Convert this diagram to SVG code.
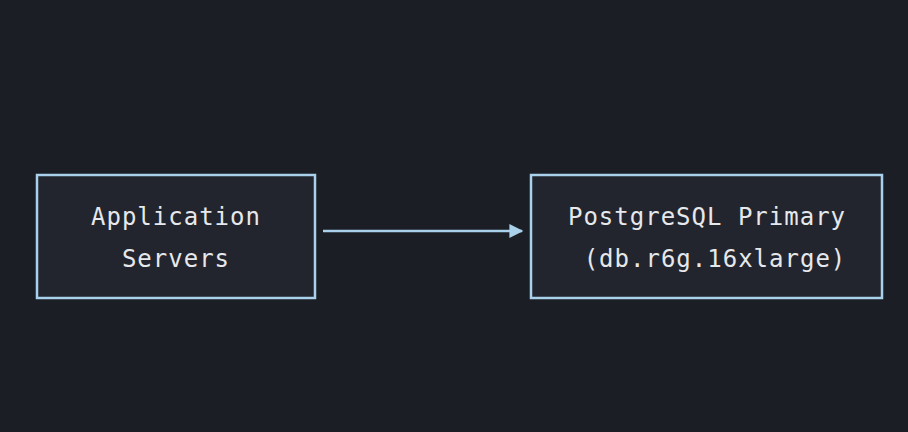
<svg xmlns="http://www.w3.org/2000/svg" width="908" height="432" viewBox="0 0 908 432">
<style>
.box{fill:#22252d;stroke:#a9d1ec;stroke-width:2.5}
.t{font-family:"DejaVu Sans Mono","Liberation Mono",monospace;font-size:24px;fill:#e6e8ec;text-anchor:middle;letter-spacing:1px}
.c{stroke:#a9d1ec;stroke-width:2.5;fill:none}
</style>
<defs><marker id="ah" viewBox="0 0 10 10" refX="9" refY="5" markerWidth="6" markerHeight="6" markerUnits="userSpaceOnUse" orient="auto"><path d="M0,0L10,5L0,10z" fill="#a9d1ec"/></marker>
<marker id="a" viewBox="0 0 10 10" refX="9" refY="5" markerWidth="16" markerHeight="14" markerUnits="userSpaceOnUse" orient="auto"><path d="M0,0L10,5L0,10z" fill="#a9d1ec"/></marker></defs>
<rect width="908" height="432" fill="#1b1e25"/>
<g id="app"><rect class="box" x="37" y="175" width="278" height="123"/>
<text class="t" x="176" y="225">Application</text><text class="t" x="176" y="267">Servers</text></g>
<g id="pg"><rect class="box" x="531" y="175" width="351" height="123"/>
<text class="t" x="707" y="225">PostgreSQL Primary</text><text class="t" x="715" y="267">(db.r6g.16xlarge)</text></g>
<g id="connectors"><path class="c" d="M323,231H522" marker-end="url(#a)"/></g>
</svg>
